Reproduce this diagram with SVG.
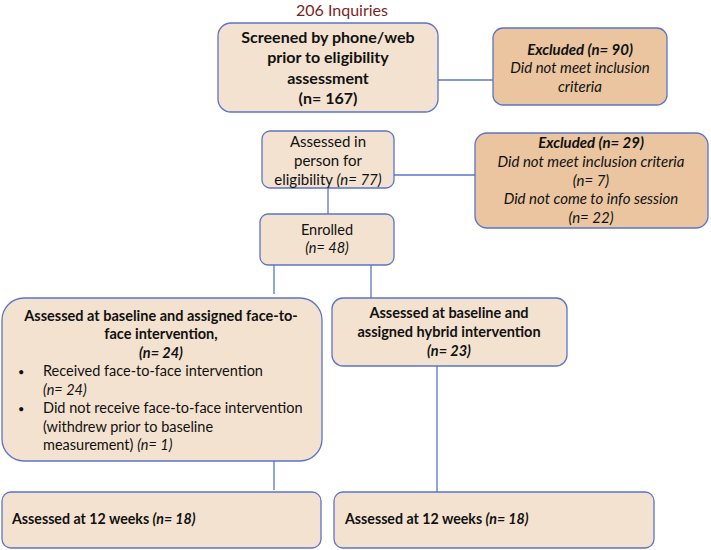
<svg xmlns="http://www.w3.org/2000/svg" width="711" height="550" viewBox="0 0 711 550">
<style>
text{font-family:Lato,"Open Sans","Liberation Sans",sans-serif;font-size:14.5px;fill:#111;}
.box{fill:#F3E2CF;stroke:#5B74C9;stroke-width:1.3;}
.exc{fill:#EAC5A0;stroke:#5B74C9;stroke-width:1.3;}
.c{text-anchor:middle;}
.b{font-weight:bold;}
.i{font-style:italic;}
.big{font-size:16px;}
.ex{font-size:15px;}
.ln{stroke:#5B74C9;stroke-width:1.3;fill:none;}
</style>
<text x="342" y="16" class="c" style="fill:#7A1F1F;font-size:16px">206 Inquiries</text>
<g id="connectors">
<line class="ln" x1="438" y1="80" x2="493" y2="80"/>
<line class="ln" x1="394" y1="175" x2="475" y2="175"/>
<line class="ln" x1="328" y1="188" x2="328" y2="214"/>
<line class="ln" x1="274" y1="265" x2="274" y2="294"/>
<line class="ln" x1="371" y1="265" x2="371" y2="298"/>
<line class="ln" x1="274" y1="461" x2="274" y2="490"/>
<line class="ln" x1="437" y1="366" x2="437" y2="492"/>
</g>
<g id="screened">
<rect class="box" x="218" y="23" width="220" height="89" rx="13"/>
<text class="c b big" x="328" y="43">Screened by phone/web</text>
<text class="c b big" x="328" y="63">prior to eligibility</text>
<text class="c b big" x="328" y="84">assessment</text>
<text class="c b big" x="328" y="104">(n= 167)</text>
</g>
<g id="excluded90">
<rect class="exc" x="493" y="28" width="174" height="77" rx="10"/>
<text class="c b i ex" x="580" y="55">Excluded (n= 90)</text>
<text class="c i ex" x="580" y="73">Did not meet inclusion</text>
<text class="c i ex" x="580" y="92">criteria</text>
</g>
<g id="assessed">
<rect class="box" x="262" y="131" width="132" height="57" rx="8"/>
<text class="c ex" x="328" y="147">Assessed in</text>
<text class="c ex" x="328" y="166">person for</text>
<text class="c ex" x="328" y="185">eligibility <tspan class="i">(n= 77)</tspan></text>
</g>
<g id="excluded29">
<rect class="exc" x="475" y="133" width="233" height="95" rx="12"/>
<text class="c b i ex" x="591" y="148">Excluded (n= 29)</text>
<text class="c i ex" x="591" y="167">Did not meet inclusion criteria</text>
<text class="c i ex" x="591" y="186">(n= 7)</text>
<text class="c i ex" x="591" y="204">Did not come to info session</text>
<text class="c i ex" x="591" y="223">(n= 22)</text>
</g>
<g id="enrolled">
<rect class="box" x="260" y="214" width="134" height="51" rx="8"/>
<text class="c" x="327" y="235">Enrolled</text>
<text class="c i" x="327" y="253">(n= 48)</text>
</g>
<g id="facetoface">
<rect class="box" x="2" y="298" width="320" height="163" rx="22"/>
<text class="c b" x="161" y="321">Assessed at baseline and assigned face-to-</text>
<text class="c b" x="161" y="339">face intervention,</text>
<text class="c b i" x="161" y="358">(n= 24)</text>
<text x="18" y="376" style="font-size:11px">•</text>
<text x="43" y="376">Received face-to-face intervention</text>
<text x="43" y="395" class="i">(n= 24)</text>
<text x="18" y="413" style="font-size:11px">•</text>
<text x="43" y="413">Did not receive face-to-face intervention</text>
<text x="43" y="432">(withdrew prior to baseline</text>
<text x="43" y="450">measurement) <tspan class="i">(n= 1)</tspan></text>
</g>
<g id="hybrid">
<rect class="box" x="332" y="298" width="235" height="68" rx="11"/>
<text class="c b" x="449" y="318">Assessed at baseline and</text>
<text class="c b" x="449" y="337">assigned hybrid intervention</text>
<text class="c b i" x="449" y="356">(n= 23)</text>
</g>
<g id="week12left">
<rect class="box" x="2" y="492" width="319" height="56" rx="9"/>
<text class="b" x="12" y="524" style="font-size:14.2px">Assessed at 12 weeks <tspan class="i">(n= 18)</tspan></text>
</g>
<g id="week12right">
<rect class="box" x="334" y="492" width="320" height="56" rx="9"/>
<text class="b" x="345" y="524" style="font-size:14.2px">Assessed at 12 weeks <tspan class="i">(n= 18)</tspan></text>
</g>
</svg>
